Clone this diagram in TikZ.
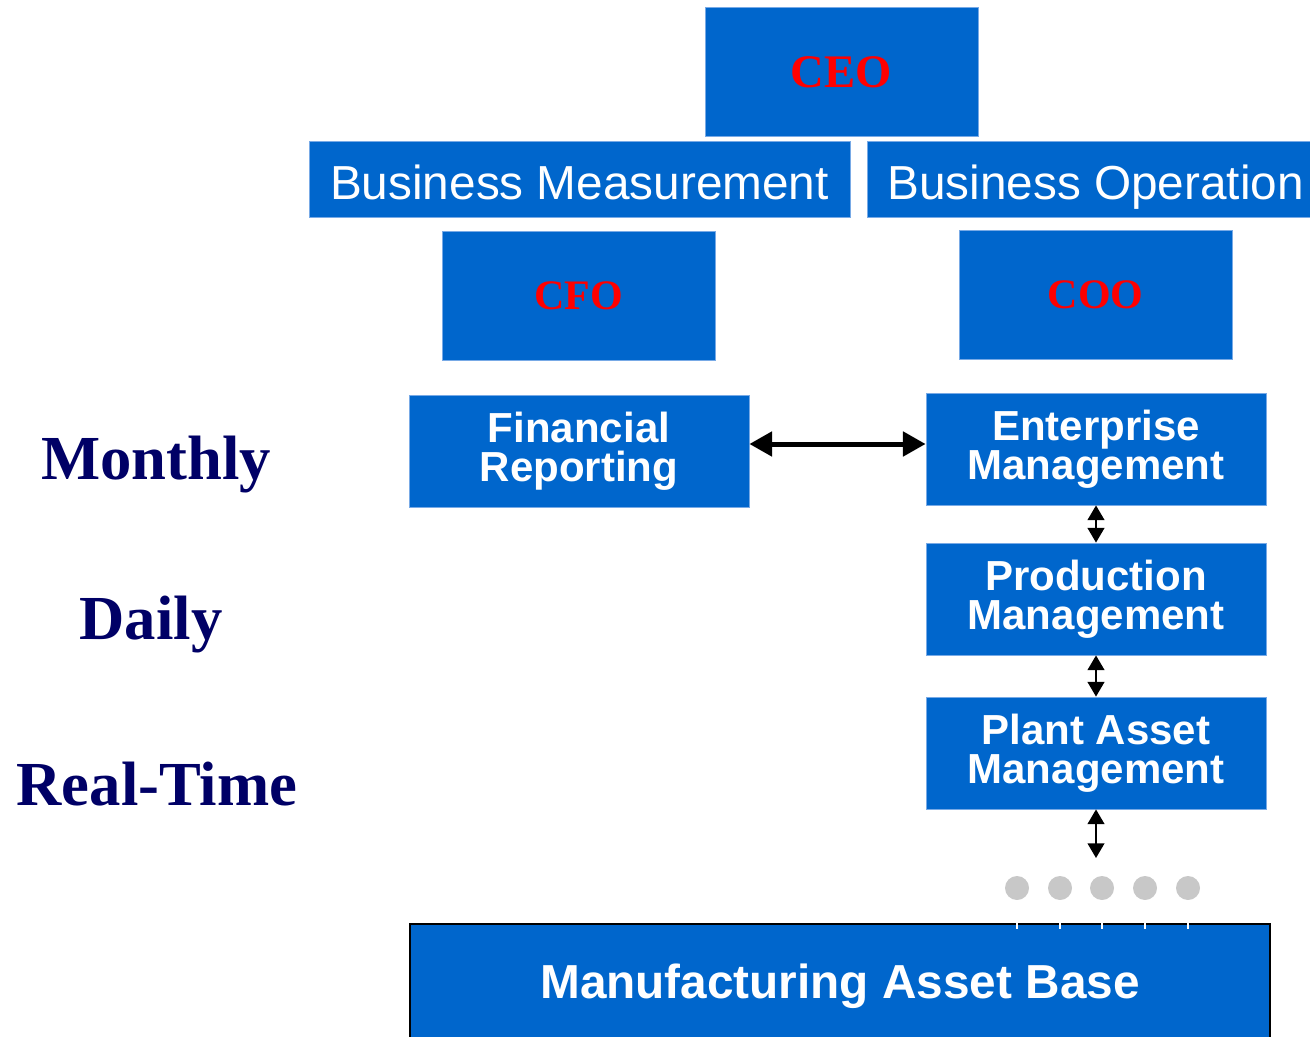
\documentclass[tikz,border=0pt]{standalone}
\usepackage{fontspec}
\setmainfont{Liberation Serif}
\setsansfont{Liberation Sans}
\usetikzlibrary{arrows.meta}
\definecolor{boxblue}{RGB}{0,102,204}
\definecolor{boxedge}{RGB}{120,170,230}
\definecolor{navy}{RGB}{0,0,102}
\definecolor{dotgray}{RGB}{200,200,200}
\definecolor{ceored}{RGB}{255,0,0}
\tikzset{
  box/.style={fill=boxblue, draw=boxedge, line width=0.6pt, inner sep=0pt, text=white, align=center},
  exec/.style={box, text=ceored, font=\rmfamily\bfseries\fontsize{31.5}{34}\selectfont, minimum width=273*0.75pt, minimum height=129*0.75pt},
  headbox/.style={box, minimum height=76*0.75pt},
  headtext/.style={font=\sffamily\fontsize{35.8}{40}\selectfont, text=white, inner sep=0pt, anchor=base},
  unit/.style={box, font=\sffamily\bfseries\fontsize{31.5}{29.5}\selectfont, minimum width=340*0.75pt, minimum height=112*0.75pt},
  period/.style={text=navy, font=\rmfamily\bfseries\fontsize{47}{50}\selectfont, inner sep=0pt},
  dotnode/.style={circle, fill=dotgray, minimum size=24*0.75pt, inner sep=0pt},
  bigarrow/.style={line width=3.75pt, {Triangle[width=18pt,length=17pt]}-{Triangle[width=18pt,length=17pt]}},
  smallarrow/.style={line width=1.5pt, {Triangle[width=12.5pt,length=11pt]}-{Triangle[width=12.5pt,length=11pt]}},
  tick/.style={draw=white, line width=1pt}
}
\begin{document}
\begin{tikzpicture}[x=0.75pt, y=-0.75pt]
\useasboundingbox (0,0) rectangle (1310,1037);
\fill[white] (0,0) rectangle (1310,1037);

% executives
\node[exec, font=\rmfamily\bfseries\fontsize{35}{37}\selectfont] (ceo) at (841.5,72) {CEO};
\node[exec] (cfo) at (578.5,295.5) {CFO};
\node[exec] (coo) at (1095.5,294.5) {COO};

% headings
\node[headbox, minimum width=541*0.75pt] (bm) at (579.5,179) {};
\node[headtext] (bmtext) at (579.5,199.5) {Business Measurement};
\node[headbox, minimum width=443*0.75pt] (bo) at (1088.5,179) {};
\node[headtext] (botext) at (1095.5,199.5) {Business Operation};

% units
\node[unit] (fr) at (579,451) {Financial\\Reporting};
\node[unit] (em) at (1096,449) {Enterprise\\Management};
\node[unit] (pm) at (1096,599) {Production\\Management};
\node[unit] (pam) at (1096,753) {Plant Asset\\Management};

% base
\node[box, draw=black, line width=1.5pt, font=\sffamily\bfseries\fontsize{35.8}{40}\selectfont, minimum width=860*0.75pt, minimum height=124*0.75pt] (mab) at (840,986) {Manufacturing Asset Base};

% period labels
\node[period] (monthly) at (156,465) {Monthly};
\node[period] (daily) at (151,625) {Daily};
\node[period] (realtime) at (157,784) {Real-Time};

% dots
\node[dotnode] (d1) at (1017,888) {};
\node[dotnode] (d2) at (1060,888) {};
\node[dotnode] (d3) at (1102,888) {};
\node[dotnode] (d4) at (1145,888) {};
\node[dotnode] (d5) at (1188,888) {};
\foreach \d in {d1,d2,d3,d4,d5}{
  \draw[tick] (\d.south) -- (\d.south |- mab.north) -- ++(0,6);
}

% connectors
\coordinate (pamend) at (1096,858);
\draw[bigarrow] (fr.east |- 0,444) -- (em.west |- 0,444);
\draw[smallarrow] (em.south) -- (pm.north);
\draw[smallarrow] (pm.south) -- (pam.north);
\draw[smallarrow] (pam.south) -- (pamend);
\end{tikzpicture}
\end{document}
